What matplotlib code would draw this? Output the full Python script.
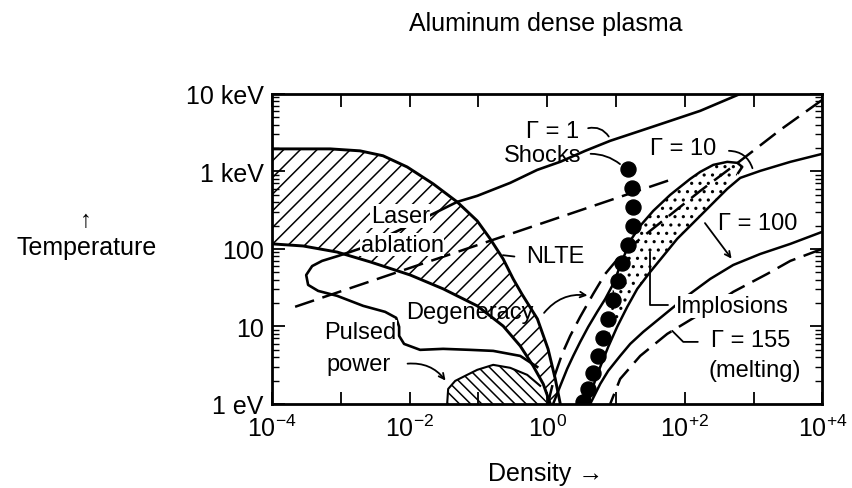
import numpy as np
import matplotlib
matplotlib.use("Agg")
import matplotlib.pyplot as plt

plt.rcParams['font.family'] = ['Liberation Sans', 'DejaVu Sans']
plt.rcParams['mathtext.fontset'] = 'custom'
plt.rcParams['mathtext.rm'] = 'Liberation Sans'
plt.rcParams['mathtext.it'] = 'Liberation Sans'
plt.rcParams['hatch.linewidth'] = 1.1

# density (g/cm^3) and temperature (eV) along each boundary
laser_top_n = [1.0e-4, 2.55e-4, 7.0e-4, 1.9e-3, 4.1e-3, 9.2e-3, 0.022, 0.049, 0.096,
               0.148, 0.229, 0.32, 0.43, 0.72, 1.03, 1.31, 1.55]
laser_top_T = [1950, 1950, 1950, 1840, 1590, 1140, 690, 404, 230,
               135, 74, 41, 26, 12.5, 5.1, 2.1, 1.0]

degen_solid_n = [1.0e-4, 2.83e-4, 8.8e-4, 2.66e-3, 0.0102, 0.0307, 0.096, 0.229,
                 0.405, 0.625, 0.875, 1.11]
degen_solid_T = [116, 109, 91, 68, 46, 30.5, 18.4, 10.1, 5.6, 3.09, 1.81, 1.0]

gamma1_n = [641, 168, 55.6, 22.5, 8.25, 3.57, 1.55, 0.716, 0.290, 0.096, 0.0491,
            0.0235, 0.0102, 0.0044, 0.00204, 9.1e-4, 5.33e-4, 3.82e-4, 3.13e-4,
            3.34e-4, 4.67e-4, 8.8e-4, 2.11e-3, 4.4e-3, 6.37e-3, 7.03e-3, 7.03e-3,
            8.3e-3, 0.0142, 0.0307, 0.0759, 0.164, 0.405, 0.716]
gamma1_T = [10000, 6040, 4350, 3330, 2480, 1840, 1330, 1045, 711, 483, 404,
            292, 204, 143, 103, 81, 70, 60, 46,
            34.3, 28.7, 24.8, 18.4, 15.4, 12.9, 9.86, 7.54,
            5.94, 4.98, 5.13, 4.98, 4.83, 4.16, 3.0]

pulsed_n = [0.0351, 0.0363, 0.0459, 0.0641, 0.096, 0.164, 0.290, 0.512, 0.791, 1.0]
pulsed_T = [1.0, 1.56, 1.98, 2.30, 2.75, 3.19, 2.92, 2.37, 1.71, 1.0]

nlte_n = [2.16e-4, 68]
nlte_T = [17.9, 800]

degen_dash_n = [1e4, 2450, 641, 168, 52, 22.5, 11.5, 6.98, 4.67, 3.02, 2.16, 1.65,
                1.31, 1.11, 1.03]
degen_dash_T = [8370, 3430, 1366, 560, 244, 135, 81, 47.6, 26.3, 13.3, 7.54, 4.42,
                2.44, 1.35, 1.0]

implosion_top_n = [1.22, 1.55, 1.95, 2.39, 3.02, 3.95, 5.33, 6.98, 9.12, 12.3, 16.1,
                   22.5, 34.8, 61.5, 120, 168, 260, 415, 581, 686, 600]
implosion_top_T = [1.0, 1.71, 2.83, 4.16, 6.31, 9.86, 15.4, 22.6, 35.3, 70, 127,
                   198, 309, 498, 800, 985, 1213, 1327, 1288, 1143, 957]

gamma10_n = [1e4, 3430, 1254, 641, 415, 212, 120, 77.8, 48.7, 31.5, 20.4, 14.6,
             10.4, 7.71, 5.90, 4.67, 3.95]
gamma10_T = [1683, 1327, 1015, 824, 595, 328, 198, 135, 81, 50.5, 30.5, 17.9,
             9.86, 5.44, 3.0, 1.71, 1.0]

gamma100_n = [1e4, 3430, 1254, 507, 235, 109, 52, 24.9, 16.1, 11.5, 7.71, 5.90, 4.22]
gamma100_T = [166, 116, 86, 62, 41, 24.8, 14.5, 8.49, 5.94, 4.16, 2.67, 1.81, 1.0]

gamma155_n = [1e4, 3430, 1585, 507, 168, 55.6, 22.5, 11.5, 8.25]
gamma155_T = [100, 70, 47.6, 27.9, 14.5, 8.0, 4.16, 2.10, 1.0]

shock_n = [15.1, 17.2, 17.8, 17.8, 15.1, 12.3, 10.8, 9.12, 7.71, 6.53, 5.52, 4.67,
           3.95, 3.34]
shock_T = [1077, 612, 348, 198, 113, 66, 38.6, 22.0, 12.5, 7.1, 4.16, 2.51,
           1.56, 1.06]

x_ticks = [1e-4, 1e-3, 1e-2, 1e-1, 1e0, 1e1, 1e2, 1e3, 1e4]
x_labels = ['$10^{-4}$', '', '$10^{-2}$', '', '$10^{0}$', '', '$10^{+2}$', '', '$10^{+4}$']
y_ticks = [1, 10, 100, 1e3, 1e4]
y_labels = ['1 eV', '10', '100', '1 keV', '10 keV']

fig = plt.figure(figsize=(8.53, 4.89), dpi=100)
ax = fig.add_axes([0.319, 0.172, 0.645, 0.634])
ax.set_xscale('log')
ax.set_yscale('log')
ax.set_xlim(1e-4, 1e4)
ax.set_ylim(1, 1e4)

# hatched and stippled regions
ax.fill(laser_top_n + degen_solid_n[::-1], laser_top_T + degen_solid_T[::-1],
        facecolor='none', edgecolor='black', linewidth=0, hatch='//', zorder=1)
ax.fill(pulsed_n, pulsed_T, facecolor='none', edgecolor='black', linewidth=0,
        hatch='\\\\\\', zorder=1)
ax.plot(pulsed_n[:-1], pulsed_T[:-1], color='black', lw=1.5, zorder=2)
ax.fill(implosion_top_n[8:] + gamma10_n[4:14], implosion_top_T[8:] + gamma10_T[4:14],
        facecolor='white', edgecolor='black', linewidth=0, hatch='..', zorder=1)

lw_main = 2.1
ax.plot(laser_top_n, laser_top_T, color='black', lw=lw_main, zorder=3)
ax.plot(degen_solid_n, degen_solid_T, color='black', lw=lw_main, zorder=3)
ax.plot(gamma1_n, gamma1_T, color='black', lw=1.9, zorder=3)
ax.plot(nlte_n, nlte_T, color='black', lw=1.8, dashes=(8, 3.5), zorder=3)
ax.plot(degen_dash_n, degen_dash_T, color='black', lw=1.8, dashes=(8, 3.5), zorder=3)
ax.plot(implosion_top_n, implosion_top_T, color='black', lw=1.8, zorder=3)
ax.plot(gamma10_n, gamma10_T, color='black', lw=1.8, zorder=3)
ax.plot(gamma100_n, gamma100_T, color='black', lw=1.8, zorder=3)
ax.plot(gamma155_n, gamma155_T, color='black', lw=1.8, dashes=(8, 3.5), zorder=3)
ax.plot(shock_n, shock_T, 'o', color='black', ms=10.8, zorder=5)

# labels and leaders
fs = 17
white = dict(facecolor='white', edgecolor='none', pad=0.5)
ax.text(1.18, 3330, 'Γ = 1', fontsize=fs, ha='center', va='center', zorder=6)
ax.text(0.846, 1633, 'Shocks', fontsize=fs, ha='center', va='center', zorder=6)
ax.text(95, 2010, 'Γ = 10', fontsize=fs, ha='center', va='center', zorder=6)
ax.text(1135, 216, 'Γ = 100', fontsize=fs, ha='center', va='center', zorder=6)
ax.text(491, 18.4, 'Implosions', fontsize=fs, ha='center', va='center', zorder=6,
        bbox=white)
ax.text(897, 6.7, 'Γ = 155', fontsize=fs, ha='center', va='center', zorder=6)
ax.text(1026, 2.75, '(melting)', fontsize=fs, ha='center', va='center', zorder=6)
ax.text(1.31, 81, 'NLTE', fontsize=fs, ha='center', va='center', zorder=6)
ax.text(7.28e-3, 267, 'Laser', fontsize=fs, ha='center', va='center', zorder=6,
        bbox=white)
ax.text(7.8e-3, 113, 'ablation', fontsize=fs, ha='center', va='center', zorder=6,
        bbox=white)
ax.text(0.0759, 15.4, 'Degeneracy', fontsize=fs, ha='center', va='center', zorder=6)
ax.text(1.9e-3, 8.49, 'Pulsed', fontsize=fs, ha='center', va='center', zorder=6,
        bbox=white)
ax.text(1.78e-3, 3.28, 'power', fontsize=fs, ha='center', va='center', zorder=6)

lead = dict(arrowstyle='-', color='black', lw=1.3)
ax.annotate('', xy=(8.25, 2625), xytext=(3.6, 3535),
            arrowprops=dict(lead, connectionstyle='arc3,rad=-0.4'))
ax.annotate('', xy=(12.3, 1178), xytext=(3.9, 1683),
            arrowprops=dict(lead, connectionstyle='arc3,rad=-0.2'))
ax.annotate('', xy=(991, 1015), xytext=(400, 1840),
            arrowprops=dict(lead, connectionstyle='arc3,rad=-0.4'))
ax.annotate('', xy=(507, 70), xytext=(186, 230),
            arrowprops=dict(arrowstyle='->', color='black', lw=1.3))
ax.annotate('', xy=(31.5, 100), xytext=(62, 19.0),
            arrowprops=dict(lead, connectionstyle='angle,angleA=0,angleB=90,rad=0'))
ax.annotate('', xy=(61.5, 9.29), xytext=(170, 6.31),
            arrowprops=dict(lead, connectionstyle='angle,angleA=180,angleB=-45,rad=0'))
ax.annotate('', xy=(0.207, 83.7), xytext=(0.366, 78.9), arrowprops=lead)
ax.annotate('', xy=(4.22, 24.8), xytext=(0.85, 14.0),
            arrowprops=dict(arrowstyle='->', color='black', lw=1.3,
                            connectionstyle='arc3,rad=-0.3'))
ax.annotate('', xy=(0.0351, 1.87), xytext=(8.5e-3, 3.28),
            arrowprops=dict(arrowstyle='->', color='black', lw=1.3,
                            connectionstyle='arc3,rad=-0.3'))

# axes styling
ax.set_xticks(x_ticks)
ax.set_xticklabels(x_labels)
ax.set_yticks(y_ticks)
ax.set_yticklabels(y_labels)
ax.tick_params(which='major', direction='in', top=True, right=True, length=9,
               width=1.3, labelsize=18, pad=8)
ax.tick_params(which='minor', direction='in', top=True, right=True, length=5,
               width=1.0)
ax.tick_params(axis='y', pad=6)
for s in ax.spines.values():
    s.set_linewidth(2.0)

fig.text(0.64, 0.951, 'Aluminum dense plasma', fontsize=18, ha='center', va='center')
fig.text(0.64, 0.03, 'Density →', fontsize=18, ha='center', va='center')
fig.text(0.101, 0.548, '↑', fontsize=17, ha='center', va='center')
fig.text(0.101, 0.493, 'Temperature', fontsize=18, ha='center', va='center')

fig.savefig('out.png', dpi=100)
